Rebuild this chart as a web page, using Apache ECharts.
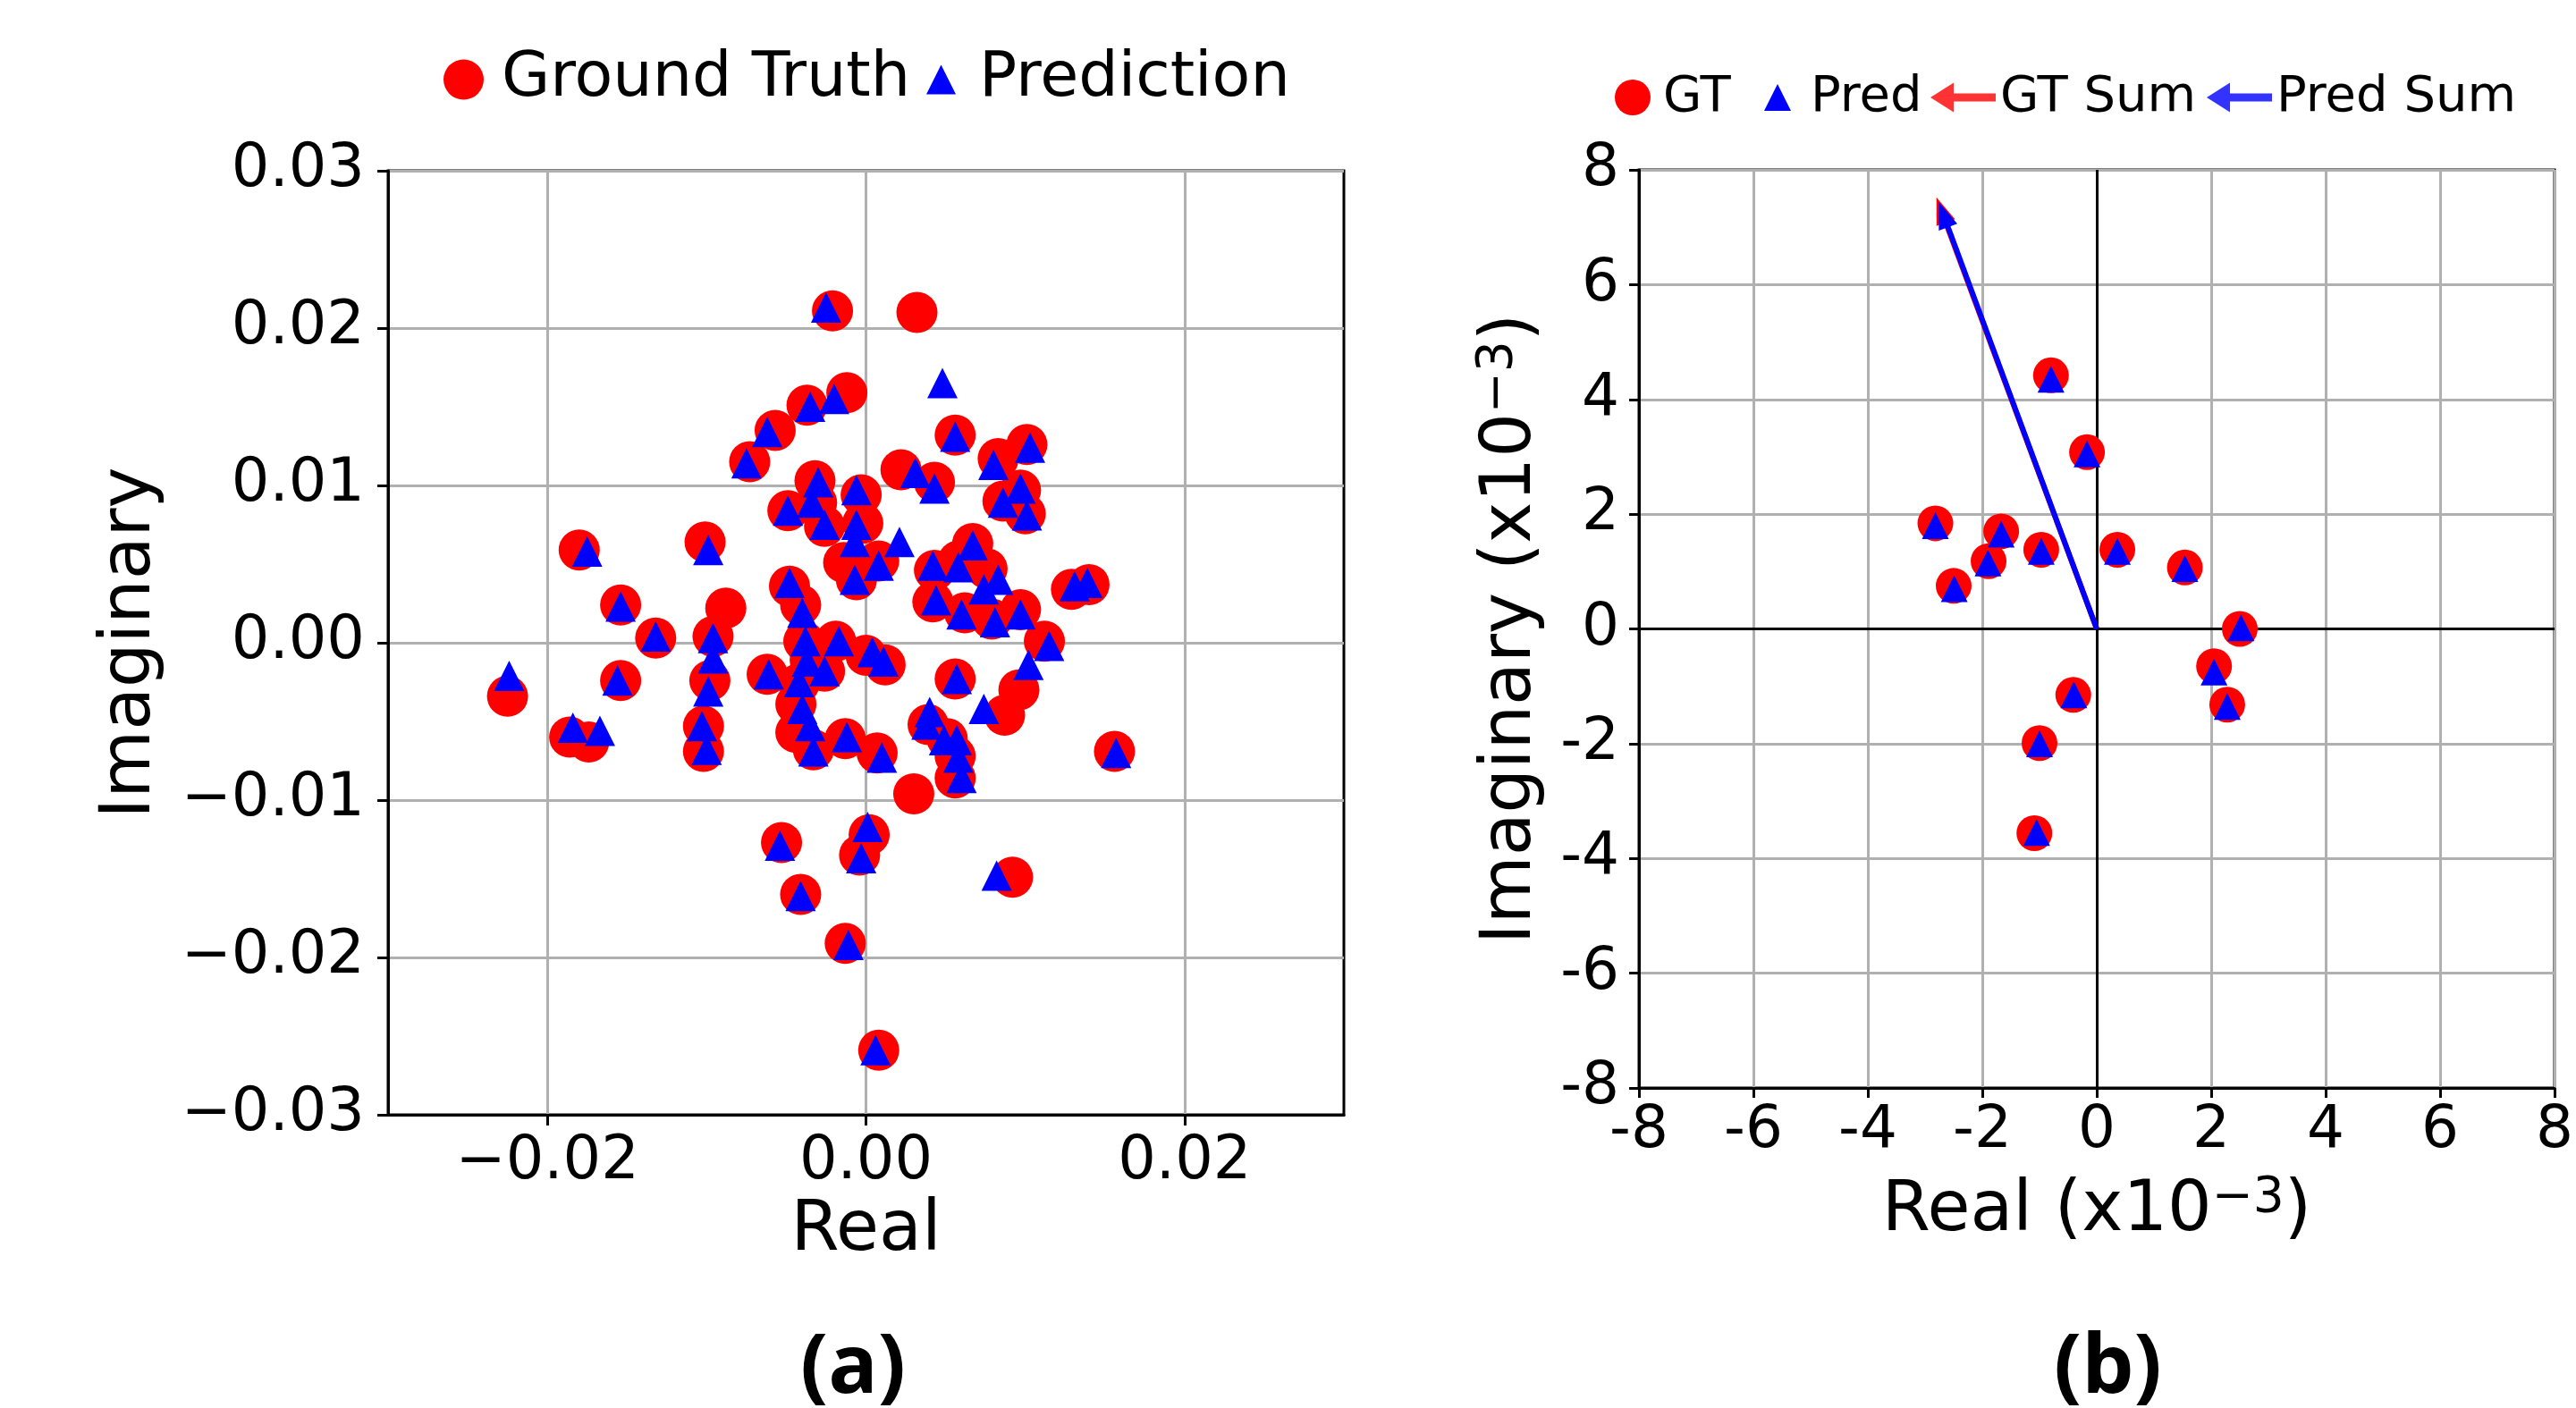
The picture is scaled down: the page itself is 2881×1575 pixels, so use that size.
<!DOCTYPE html>
<html><head><meta charset="utf-8">
<script src="https://cdn.jsdelivr.net/npm/echarts@6/dist/echarts.min.js"></script>
<style>html,body{margin:0;padding:0;background:#fff}#c{width:2881px;height:1575px}</style>
</head><body><div id="c"></div>
<script>
// ---------- Panel (a) data ----------
const gtReal = [-0.0021,0.0032,-0.0012,-0.0037,-0.0057,-0.0073,0.0056,0.0101,0.0083,0.0022,0.0043,-0.0032,0.0097,-0.0003,0.0086,-0.0049,0.0100,-0.0031,-0.0026,-0.0002,-0.0180,-0.0101,0.0067,0.0008,-0.0014,-0.0006,0.0043,0.0058,0.0076,0.0042,0.0062,0.0079,0.0097,0.0129,0.0140,0.0112,-0.0154,-0.0088,-0.0048,-0.0041,-0.0132,-0.0096,-0.0039,-0.0019,0.0000,0.0012,-0.0062,-0.0026,-0.0035,-0.0044,-0.0044,-0.0033,-0.0013,-0.0098,-0.0154,-0.0225,-0.0186,-0.0174,-0.0102,-0.0102,0.0007,0.0056,0.0039,0.0051,0.0056,0.0056,0.0030,0.0087,0.0096,0.0156,0.0092,0.0002,-0.0004,-0.0013,0.0008,-0.0053,-0.0041,-0.0042];
const gtImag = [0.0211,0.0210,0.0159,0.0151,0.0135,0.0115,0.0132,0.0126,0.0117,0.0110,0.0102,0.0103,0.0097,0.0094,0.0090,0.0084,0.0082,0.0089,0.0074,0.0076,0.0059,0.0064,0.0063,0.0052,0.0051,0.0040,0.0046,0.0052,0.0047,0.0026,0.0019,0.0015,0.0021,0.0034,0.0037,0.0001,0.0024,0.0022,0.0036,0.0024,0.0003,0.0004,0.0001,0.0001,-0.0008,-0.0014,-0.0020,-0.0018,-0.0011,-0.0039,-0.0057,-0.0068,-0.0061,-0.0024,-0.0024,-0.0034,-0.0060,-0.0063,-0.0053,-0.0069,-0.0070,-0.0023,-0.0052,-0.0061,-0.0072,-0.0086,-0.0096,-0.0046,-0.0030,-0.0069,-0.0149,-0.0122,-0.0135,-0.0191,-0.0259,-0.0127,-0.0160,-0.0026];
const predReal = [-0.0025,0.0048,-0.0020,-0.0035,-0.0062,-0.0075,0.0056,0.0103,0.0080,0.0031,0.0043,-0.0030,0.0097,-0.0006,0.0086,-0.0049,0.0101,-0.0034,-0.0026,-0.0006,-0.0007,0.0021,-0.0175,-0.0099,0.0067,0.0008,-0.0007,0.0042,0.0058,0.0083,0.0074,0.0044,0.0060,0.0081,0.0097,0.0131,0.0139,0.0115,-0.0154,-0.0048,-0.0040,-0.0132,-0.0096,-0.0096,-0.0038,-0.0017,0.0004,0.0011,-0.0061,-0.0026,-0.0037,-0.0042,-0.0040,-0.0035,-0.0033,-0.0012,-0.0099,-0.0156,-0.0224,-0.0184,-0.0167,-0.0103,-0.0100,0.0010,0.0057,0.0040,0.0038,0.0049,0.0057,0.0058,0.0060,0.0074,0.0102,0.0157,0.0082,0.0001,-0.0003,-0.0011,0.0006,-0.0054,-0.0041];
const predImag = [0.0213,0.0165,0.0155,0.0150,0.0134,0.0114,0.0131,0.0124,0.0113,0.0108,0.0098,0.0102,0.0098,0.0097,0.0089,0.0084,0.0081,0.0089,0.0075,0.0075,0.0064,0.0064,0.0058,0.0059,0.0062,0.0049,0.0040,0.0049,0.0048,0.0040,0.0034,0.0027,0.0018,0.0013,0.0018,0.0036,0.0038,-0.0002,0.0023,0.0038,0.0019,0.0004,0.0003,-0.0010,0.0001,0.0001,-0.0006,-0.0012,-0.0020,-0.0018,-0.0012,-0.0025,-0.0042,-0.0053,-0.0069,-0.0060,-0.0031,-0.0024,-0.0021,-0.0054,-0.0056,-0.0053,-0.0068,-0.0073,-0.0023,-0.0044,-0.0052,-0.0062,-0.0062,-0.0073,-0.0086,-0.0042,-0.0014,-0.0070,-0.0148,-0.0117,-0.0137,-0.0192,-0.0259,-0.0129,-0.0161];
const aXTicks = [-0.02, 0.00, 0.02];
const aYTicks = [-0.03, -0.02, -0.01, 0.00, 0.01, 0.02, 0.03];

// ---------- Panel (b) data (x10^-3) ----------
const gtRe = [-0.80,-0.17,-2.82,-1.67,-1.89,-0.97,-2.50,0.36,1.54,2.50,2.05,2.28,-0.41,-1.00,-1.09];
const gtIm = [4.42,3.08,1.84,1.70,1.18,1.38,0.75,1.38,1.07,0.00,-0.65,-1.32,-1.15,-1.99,-3.56];
const prRe = [-0.80,-0.17,-2.82,-1.67,-1.90,-0.97,-2.49,0.36,1.54,2.52,2.05,2.28,-0.40,-1.00,-1.05];
const prIm = [4.35,3.05,1.80,1.65,1.15,1.35,0.70,1.35,1.05,0.02,-0.75,-1.35,-1.15,-2.00,-3.55];
const gtSum = [-2.72, 7.30];
const predSum = [-2.68, 7.22];
const bTicks = [-8,-6,-4,-2,0,2,4,6,8];

const pair = (a, b) => a.map((v, i) => [v, b[i]]);
const F = 'DejaVu Sans';
const RED = '#ff0000', BLUE = '#0000ff';
const fmtA = v => (v < -1e-9 ? '\u2212' : '') + Math.abs(v).toFixed(2);

const axisCommon = {
  axisLine: { show: true, onZero: false, lineStyle: { color: '#000', width: 3 } },
  axisTick: { show: true, inside: false, length: 12, lineStyle: { color: '#000', width: 3 } },
  splitLine: { show: true, lineStyle: { color: '#b0b0b0', width: 3 } },
  nameLocation: 'middle',
  nameTextStyle: { fontFamily: F, fontSize: 78, color: '#000' }
};

const arrowIcon = 'path://M0,16.5 L26,0 L26,12 L73,12 L73,21 L26,21 L26,33 Z';
const legText = (size, pad) => ({ fontFamily: F, fontSize: size, color: '#000', padding: [0, 0, 0, pad] });

const chart = echarts.init(document.getElementById('c'), null, { renderer: 'canvas' });
chart.setOption({
  animation: false,
  backgroundColor: '#fff',
  grid: [
    { left: 434, top: 191, width: 1069, height: 1056, show: true, borderColor: '#000', borderWidth: 3, backgroundColor: 'transparent' },
    { left: 1833, top: 190, width: 1026, height: 1027, show: true, borderColor: '#000', borderWidth: 3, backgroundColor: 'transparent' }
  ],
  xAxis: [
    Object.assign({}, axisCommon, {
      gridIndex: 0, type: 'value', min: -0.03, max: 0.03, name: 'Real', nameGap: 92,
      axisTick: Object.assign({}, axisCommon.axisTick, { customValues: aXTicks }),
      axisLabel: { customValues: aXTicks, formatter: fmtA, fontFamily: F, fontSize: 67, color: '#000', margin: 20 }
    }),
    Object.assign({}, axisCommon, {
      gridIndex: 1, type: 'value', min: -8, max: 8, interval: 2,
      name: 'Real (x10{sup|\u22123})', nameGap: 96,
      nameTextStyle: { fontFamily: F, fontSize: 78, color: '#000', rich: { sup: { fontFamily: F, fontSize: 55, verticalAlign: 'top', padding: [0, 0, 30, 0] } } },
      axisTick: Object.assign({}, axisCommon.axisTick, { length: 11 }),
      axisLabel: { formatter: v => String(v), fontFamily: F, fontSize: 66, color: '#000', margin: 16 }
    })
  ],
  yAxis: [
    Object.assign({}, axisCommon, {
      gridIndex: 0, type: 'value', min: -0.03, max: 0.03, interval: 0.01, name: 'Imaginary', nameGap: 248,
      axisLabel: { formatter: fmtA, fontFamily: F, fontSize: 67, color: '#000', margin: 26 }
    }),
    Object.assign({}, axisCommon, {
      gridIndex: 1, type: 'value', min: -8, max: 8, interval: 2,
      name: 'Imaginary (x10{sup|\u22123})', nameGap: 100,
      nameTextStyle: { fontFamily: F, fontSize: 78, color: '#000', rich: { sup: { fontFamily: F, fontSize: 55, verticalAlign: 'top', padding: [0, 0, 30, 0] } } },
      axisTick: Object.assign({}, axisCommon.axisTick, { length: 11 }),
      axisLabel: { formatter: v => String(v), fontFamily: F, fontSize: 66, color: '#000', margin: 22 }
    })
  ],
  legend: [
    { data: [{ name: 'Ground Truth', icon: 'circle' }], left: 491, top: 49, itemWidth: 45, itemHeight: 45, selectedMode: false, textStyle: legText(70, 15) },
    { data: [{ name: 'Prediction', icon: 'triangle' }], left: 1031, top: 49, itemWidth: 33, itemHeight: 33, selectedMode: false, textStyle: legText(70, 21) },
    { data: [{ name: 'GT', icon: 'circle' }], left: 1801, top: 76, itemWidth: 40, itemHeight: 40, selectedMode: false, textStyle: legText(56, 9) },
    { data: [{ name: 'Pred', icon: 'triangle' }], left: 1968, top: 76, itemWidth: 30, itemHeight: 30, selectedMode: false, textStyle: legText(56, 17) },
    { data: [{ name: 'GT Sum', icon: arrowIcon }], left: 2154, top: 76, itemWidth: 73, itemHeight: 33, selectedMode: false, textStyle: legText(56, 0) },
    { data: [{ name: 'Pred Sum', icon: arrowIcon }], left: 2463, top: 76, itemWidth: 73, itemHeight: 33, selectedMode: false, textStyle: legText(56, 0) }
  ],
  series: [
    { name: 'Ground Truth', type: 'scatter', xAxisIndex: 0, yAxisIndex: 0, symbol: 'circle', symbolSize: 46,
      itemStyle: { color: RED, opacity: 1 }, data: pair(gtReal, gtImag), z: 2 },
    { name: 'Prediction', type: 'scatter', xAxisIndex: 0, yAxisIndex: 0, symbol: 'triangle', symbolSize: 34,
      itemStyle: { color: BLUE, opacity: 1 }, data: pair(predReal, predImag), z: 3 },
    { name: 'GT', type: 'scatter', xAxisIndex: 1, yAxisIndex: 1, symbol: 'circle', symbolSize: 40,
      itemStyle: { color: RED, opacity: 1 }, data: pair(gtRe, gtIm), z: 3,
      markLine: { silent: true, symbol: ['none', 'none'], label: { show: false }, animation: false,
        lineStyle: { color: '#000', width: 3, type: 'solid' },
        data: [{ xAxis: 0 }, { yAxis: 0 }], z: 1 } },
    { name: 'Pred', type: 'scatter', xAxisIndex: 1, yAxisIndex: 1, symbol: 'triangle', symbolSize: 30,
      itemStyle: { color: BLUE, opacity: 1 }, data: pair(prRe, prIm), z: 4 },
    { name: 'GT Sum', type: 'scatter', xAxisIndex: 1, yAxisIndex: 1, data: [], itemStyle: { color: RED }, z: 5,
      markLine: { silent: true, symbol: ['none', 'triangle'], symbolSize: [22, 30], label: { show: false }, animation: false,
        lineStyle: { color: RED, width: 6, type: 'solid' }, itemStyle: { color: RED },
        data: [[{ coord: [0, 0] }, { coord: gtSum }]] } },
    { name: 'Pred Sum', type: 'scatter', xAxisIndex: 1, yAxisIndex: 1, data: [], itemStyle: { color: BLUE }, z: 6,
      markLine: { silent: true, symbol: ['none', 'triangle'], symbolSize: [22, 30], label: { show: false }, animation: false,
        lineStyle: { color: BLUE, width: 6, type: 'solid' }, itemStyle: { color: BLUE },
        data: [[{ coord: [0, 0] }, { coord: predSum }]] } }
  ],
  graphic: [
    { type: 'text', left: 954 - 59, top: 1486, style: { text: '(a)', font: 'bold 92px "Open Sans"', fill: '#000' } },
    { type: 'text', left: 2356 - 59, top: 1486, style: { text: '(b)', font: 'bold 92px "Open Sans"', fill: '#000' } }
  ]
});
</script>
</body></html>
